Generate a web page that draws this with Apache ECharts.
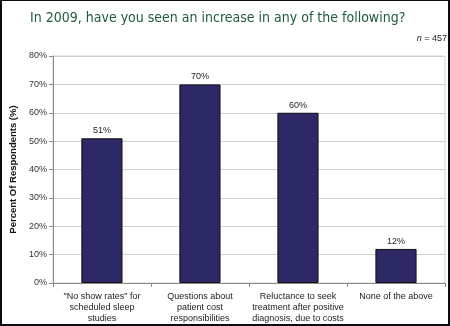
<!DOCTYPE html>
<html>
<head>
<meta charset="utf-8">
<script src="https://cdn.jsdelivr.net/npm/echarts@6/dist/echarts.min.js"></script>
<style>
  html, body { margin: 0; padding: 0; background: #fff; }
  #wrap { position: relative; width: 450px; height: 326px; }
  #chart { position: absolute; left: 0; top: 0; width: 450px; height: 326px; }
  #frame { position: absolute; left: 0; top: 0; width: 450px; height: 326px; box-sizing: border-box;
           border-style: solid; border-color: #0b0b14; border-width: 1px 2px 2px 2px; pointer-events: none; }
</style>
</head>
<body>
<div id="wrap">
  <div id="chart"></div>
  <div id="frame"></div>
</div>
<script>
// Survey responses (percent of respondents)
const categories = [
  '"No show rates" for\nscheduled sleep\nstudies',
  'Questions about\npatient cost\nresponsibilities',
  'Reluctance to seek\ntreatment after positive\ndiagnosis, due to costs',
  'None of the above'
];
const percentValues = [51, 70, 60, 12];
const yTicks = { min: 0, max: 80, step: 10 };
const sampleSize = 457;

const chart = echarts.init(document.getElementById('chart'), null, { renderer: 'canvas' });

chart.setOption({
  animation: false,
  backgroundColor: '#ffffff',
  title: {
    text: 'In 2009, have you seen an increase in any of the following?',
    left: 30,
    top: 11,
    padding: 0,
    textStyle: {
      fontFamily: 'DejaVu Sans Condensed, DejaVu Sans',
      fontSize: 14,
      fontWeight: 'normal',
      color: '#1e5b3a'
    }
  },
  graphic: [{
    type: 'text',
    right: 3,
    top: 34,
    style: {
      text: '{i|n} = ' + sampleSize,
      rich: {
        i: { fontStyle: 'italic', fontSize: 9, fontFamily: 'Liberation Sans, Arial', fill: '#222' }
      },
      fontSize: 9,
      fontFamily: 'Liberation Sans, Arial',
      fill: '#222'
    }
  }],
  grid: {
    left: 51,
    right: 5,
    top: 56,
    bottom: 43,
    show: true,
    borderColor: '#d0d0d0',
    borderWidth: 1
  },
  xAxis: {
    type: 'category',
    data: categories,
    axisLine: { lineStyle: { color: '#8a8a8a' } },
    axisTick: { show: true, length: 4, lineStyle: { color: '#8a8a8a' } },
    axisLabel: {
      interval: 0,
      fontFamily: 'Liberation Sans, Arial',
      fontSize: 9,
      lineHeight: 11,
      color: '#222',
      margin: 8
    }
  },
  yAxis: {
    type: 'value',
    min: yTicks.min,
    max: yTicks.max,
    interval: yTicks.step,
    name: 'Percent Of Respondents (%)',
    nameLocation: 'middle',
    nameGap: 30,
    nameTextStyle: {
      fontFamily: 'Liberation Sans, Arial',
      fontSize: 9.5,
      fontWeight: 'bold',
      color: '#111'
    },
    axisLine: { show: true, lineStyle: { color: '#8a8a8a' } },
    axisTick: { show: true, length: 4, lineStyle: { color: '#8a8a8a' } },
    axisLabel: {
      formatter: '{value}%',
      fontFamily: 'Liberation Sans, Arial',
      fontSize: 9,
      color: '#333',
      margin: 6
    },
    splitLine: { lineStyle: { color: '#d0d0d0' } }
  },
  series: [{
    type: 'bar',
    data: percentValues,
    barWidth: '42%',
    itemStyle: { color: '#2c2966', borderColor: '#111', borderWidth: 1 },
    label: {
      show: true,
      position: 'top',
      distance: 3,
      formatter: '{c}%',
      fontFamily: 'Liberation Sans, Arial',
      fontSize: 9,
      color: '#222'
    }
  }]
});
</script>
</body>
</html>
